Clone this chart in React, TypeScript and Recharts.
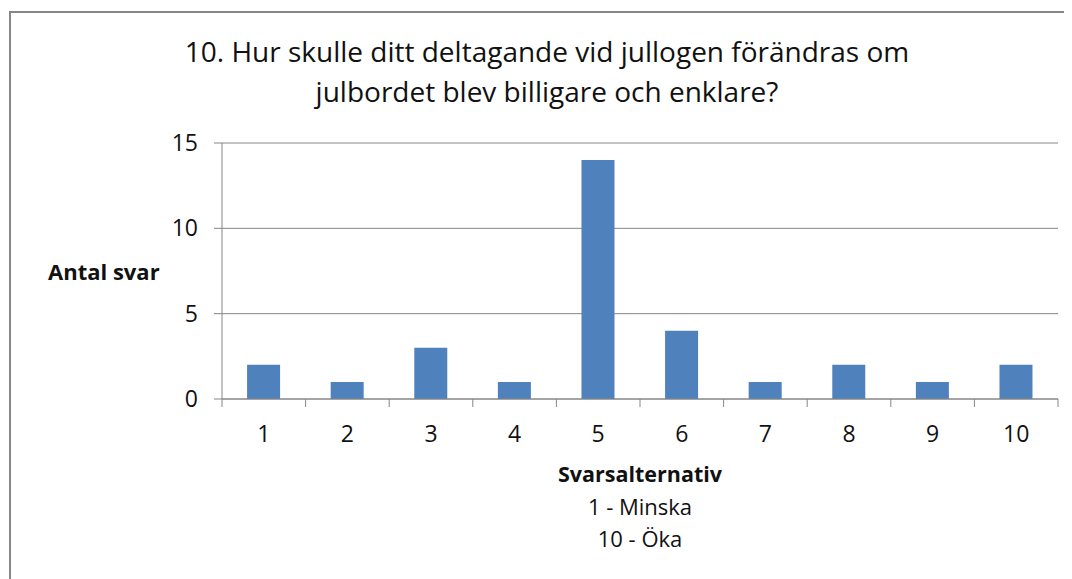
import { BarChart, Bar, XAxis, YAxis, CartesianGrid } from 'recharts'

const categories = ['1', '2', '3', '4', '5', '6', '7', '8', '9', '10']
const answers = [2, 1, 3, 1, 14, 4, 1, 2, 1, 2]
const yTicks = [0, 5, 10, 15]

const titleLines = [
  '10. Hur skulle ditt deltagande vid jullogen förändras om',
  'julbordet blev billigare och enklare?',
]
const xTitle = 'Svarsalternativ'
const xNotes = ['1 - Minska', '10 - Öka']
const yTitle = 'Antal svar'

const data = categories.map((alt, i) => ({ alt, antal: answers[i] }))

const W = 1064
const H = 571
const margin = { top: 135, right: 14, left: 154, bottom: 140 }
const yAxisWidth = 60
const band = (W - margin.left - margin.right - yAxisWidth) / categories.length
const axisColor = '#868686'
const textColor = '#111'
const font = '"Open Sans", sans-serif'

// tick marks sit between categories, labels stay centred
const XTick = (props: any) => {
  const { x, y, payload, index } = props
  return (
    <g>
      <line x1={x - band / 2} y1={y} x2={x - band / 2} y2={y + 8} stroke={axisColor} />
      {index === categories.length - 1 && (
        <line x1={x + band / 2} y1={y} x2={x + band / 2} y2={y + 8} stroke={axisColor} />
      )}
      <text x={x} y={y + 43} textAnchor="middle" fontSize={23} fill={textColor} fontFamily={font}>
        {payload.value}
      </text>
    </g>
  )
}

export default function App() {
  return (
    <div style={{ position: 'relative', width: W, height: H, fontFamily: font, color: textColor, overflow: 'hidden' }}>
      <div
        style={{
          position: 'absolute',
          left: 1,
          top: 3,
          width: W + 20,
          height: H + 20,
          border: `2px solid ${axisColor}`,
          boxSizing: 'border-box',
        }}
      />
      <BarChart width={W} height={H} data={data} margin={margin} barCategoryGap="30%">
        <CartesianGrid vertical={false} stroke={axisColor} />
        <XAxis
          dataKey="alt"
          height={40}
          tickSize={0}
          tickMargin={0}
          tickLine={false}
          axisLine={{ stroke: axisColor }}
          tick={<XTick />}
          interval={0}
        />
        <YAxis
          width={yAxisWidth}
          domain={[0, 15]}
          ticks={yTicks}
          tickSize={8}
          tickMargin={16}
          tickLine={{ stroke: axisColor }}
          axisLine={{ stroke: axisColor }}
          tick={{ fontSize: 23, fill: textColor, fontFamily: font }}
        />
        <Bar dataKey="antal" fill="#4F81BD" isAnimationActive={false} />
      </BarChart>
      <div
        style={{
          position: 'absolute',
          left: 339,
          width: 400,
          top: 23,
          fontSize: 28,
          lineHeight: '40px',
          whiteSpace: 'nowrap',
          display: 'flex',
          flexDirection: 'column',
          alignItems: 'center',
        }}
      >
        {titleLines.map((t) => (
          <div key={t}>{t}</div>
        ))}
      </div>
      <div style={{ position: 'absolute', left: 40, top: 250, fontSize: 22, fontWeight: 'bold', lineHeight: '26px' }}>
        {yTitle}
      </div>
      <div
        style={{
          position: 'absolute',
          left: 432,
          width: 400,
          top: 450,
          textAlign: 'center',
          fontSize: 22,
          lineHeight: '32px',
        }}
      >
        <div style={{ fontWeight: 'bold', fontSize: 21.5 }}>{xTitle}</div>
        {xNotes.map((n) => (
          <div key={n}>{n}</div>
        ))}
      </div>
    </div>
  )
}
